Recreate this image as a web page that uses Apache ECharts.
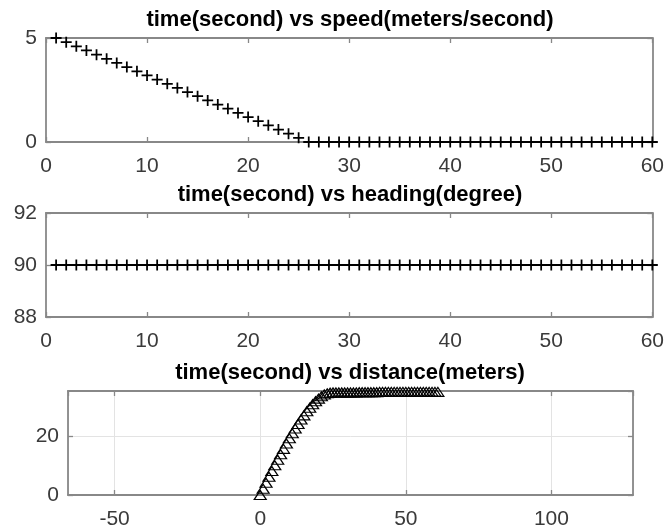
<!DOCTYPE html>
<html>
<head>
<meta charset="utf-8">
<script src="https://cdn.jsdelivr.net/npm/echarts@6/dist/echarts.min.js"></script>
<style>
  html, body { margin: 0; padding: 0; background: #fff; }
  #main { width: 667px; height: 531px; }
</style>
</head>
<body>
<div id="main"></div>
<script>
// time samples (s)
const time = [1, 2, 3, 4, 5, 6, 7, 8, 9, 10, 11, 12, 13, 14, 15, 16, 17, 18, 19, 20,
  21, 22, 23, 24, 25, 26, 27, 28, 29, 30, 31, 32, 33, 34, 35, 36, 37, 38, 39, 40,
  41, 42, 43, 44, 45, 46, 47, 48, 49, 50, 51, 52, 53, 54, 55, 56, 57, 58, 59, 60]
// speed (m/s)
const speed = [5, 4.8, 4.6, 4.4, 4.2, 4, 3.8, 3.6, 3.4, 3.2, 3, 2.8, 2.6, 2.4, 2.2, 2, 1.8, 1.6, 1.4, 1.2,
  1, 0.8, 0.6, 0.4, 0.2, 0, 0, 0, 0, 0, 0, 0, 0, 0, 0, 0, 0, 0, 0, 0,
  0, 0, 0, 0, 0, 0, 0, 0, 0, 0, 0, 0, 0, 0, 0, 0, 0, 0, 0, 0]
// heading (deg)
const heading = [90, 90, 90, 90, 90, 90, 90, 90, 90, 90, 90, 90, 90, 90, 90, 90, 90, 90, 90, 90,
  90, 90, 90, 90, 90, 90, 90, 90, 90, 90, 90, 90, 90, 90, 90, 90, 90, 90, 90, 90,
  90, 90, 90, 90, 90, 90, 90, 90, 90, 90, 90, 90, 90, 90, 90, 90, 90, 90, 90, 90]
// distance plot
const distX = [0, 1, 2, 3, 4, 5, 6, 7, 8, 9, 10, 11, 12, 13, 14, 15, 16, 17, 18, 19, 20,
  21, 22, 23, 24, 25, 26, 27, 28, 29, 30, 31, 32, 33, 34, 35, 36, 37, 38, 39, 40,
  41, 42, 43, 44, 45, 46, 47, 48, 49, 50, 51, 52, 53, 54, 55, 56, 57, 58, 59, 60, 61]
const distY = [0, 2.1, 4.2, 6.2, 8.2, 10.1, 12, 13.9, 15.7, 17.5, 19.3, 21, 22.6, 24.2, 25.7, 27.1, 28.5, 29.7, 30.9, 31.9, 32.8,
  33.6, 34.2, 34.6, 34.8, 34.9, 34.9, 34.9, 34.9, 34.9, 34.9, 34.9, 34.9, 34.9, 35, 35, 35, 35, 35, 35, 35,
  35.1, 35.1, 35.1, 35.1, 35.1, 35.1, 35.1, 35.1, 35.1, 35.1, 35.1, 35.1, 35.1, 35.1, 35.1, 35.1, 35.1, 35.1, 35.1, 35.1, 35.1]

const speedTicks = [0, 5]
const headingRange = [88, 92]
const distXRange = [-66, 128]
const distYRange = [0, 35.4]

const plusPath = 'path://M4.2,0 h1.6 v4.2 h4.2 v1.6 h-4.2 v4.2 h-1.6 v-4.2 h-4.2 v-1.6 h4.2 z'
const axisGray = '#888'
const textGray = '#3a3a3a'
const font = 'Liberation Sans, Arial, sans-serif'

const chart = echarts.init(document.getElementById('main'), null, { renderer: 'canvas' })

function xAxisCfg(grid, min, max, interval, pos, extra) {
  const bottom = pos === 'bottom'
  return Object.assign({
    type: 'value', gridIndex: grid, position: pos, min: min, max: max, interval: interval,
    axisLine: { show: true, onZero: false, lineStyle: { color: axisGray, width: 1.8 } },
    axisTick: { show: true, inside: true, length: 5, lineStyle: { color: axisGray, width: 1.3 } },
    axisLabel: { show: bottom, color: textGray, fontSize: 21, fontFamily: font, margin: 14 },
    splitLine: { show: false }
  }, extra || {})
}
function yAxisCfg(grid, min, max, interval, pos, extra) {
  const left = pos === 'left'
  return Object.assign({
    type: 'value', gridIndex: grid, position: pos, min: min, max: max, interval: interval,
    axisLine: { show: true, onZero: false, lineStyle: { color: axisGray, width: 1.8 } },
    axisTick: { show: true, inside: true, length: 5, lineStyle: { color: axisGray, width: 1.3 } },
    axisLabel: { show: left, color: textGray, fontSize: 21, fontFamily: font, margin: 9 },
    splitLine: { show: false }
  }, extra || {})
}

const grid3Split = { show: true, lineStyle: { color: '#e3e3e3', width: 1 } }

const option = {
  animation: false,
  backgroundColor: '#fff',
  title: [
    { text: 'time(second) vs speed(meters/second)', left: 350, top: 9, textAlign: 'center', padding: 0 },
    { text: 'time(second) vs heading(degree)', left: 350, top: 184, textAlign: 'center', padding: 0 },
    { text: 'time(second) vs distance(meters)', left: 350, top: 362, textAlign: 'center', padding: 0 }
  ].map(t => Object.assign(t, { textStyle: { color: '#000', fontSize: 22, fontWeight: 'bold', fontFamily: font } })),
  grid: [
    { left: 46, right: 13, top: 38, height: 104 },
    { left: 46, right: 13, top: 213, height: 104 },
    { left: 68, right: 34, top: 391, height: 104 }
  ],
  xAxis: [
    xAxisCfg(0, 0, 60, 10, 'bottom'),
    xAxisCfg(0, 0, 60, 10, 'top'),
    xAxisCfg(1, 0, 60, 10, 'bottom'),
    xAxisCfg(1, 0, 60, 10, 'top'),
    xAxisCfg(2, distXRange[0], distXRange[1], null, 'bottom', {
      splitNumber: 4, splitLine: grid3Split,
      axisLabel: { show: true, color: textGray, fontSize: 21, fontFamily: font, margin: 14, showMinLabel: false, showMaxLabel: false }
    }),
    xAxisCfg(2, distXRange[0], distXRange[1], null, 'top', { splitNumber: 4 })
  ],
  yAxis: [
    yAxisCfg(0, speedTicks[0], speedTicks[1], 5, 'left'),
    yAxisCfg(0, speedTicks[0], speedTicks[1], 5, 'right'),
    yAxisCfg(1, headingRange[0], headingRange[1], 2, 'left'),
    yAxisCfg(1, headingRange[0], headingRange[1], 2, 'right'),
    yAxisCfg(2, distYRange[0], distYRange[1], 20, 'left', {
      splitLine: grid3Split,
      axisLabel: { show: true, color: textGray, fontSize: 21, fontFamily: font, margin: 9, showMaxLabel: false }
    }),
    yAxisCfg(2, distYRange[0], distYRange[1], 20, 'right')
  ],
  series: [
    {
      type: 'scatter', xAxisIndex: 0, yAxisIndex: 0, clip: false,
      symbol: plusPath, symbolSize: 11, itemStyle: { color: '#000', opacity: 1 },
      data: time.map((t, i) => [t, speed[i]])
    },
    {
      type: 'scatter', xAxisIndex: 2, yAxisIndex: 2, clip: false,
      symbol: plusPath, symbolSize: 11, itemStyle: { color: '#000', opacity: 1 },
      data: time.map((t, i) => [t, heading[i]])
    },
    {
      type: 'scatter', xAxisIndex: 4, yAxisIndex: 4, clip: false,
      symbol: 'triangle', symbolSize: [12, 9],
      itemStyle: { color: 'rgba(0,0,0,0)', borderColor: '#000', borderWidth: 1.2, opacity: 1 },
      data: distX.map((x, i) => [x, distY[i]])
    }
  ]
}

chart.setOption(option)
</script>
</body>
</html>
